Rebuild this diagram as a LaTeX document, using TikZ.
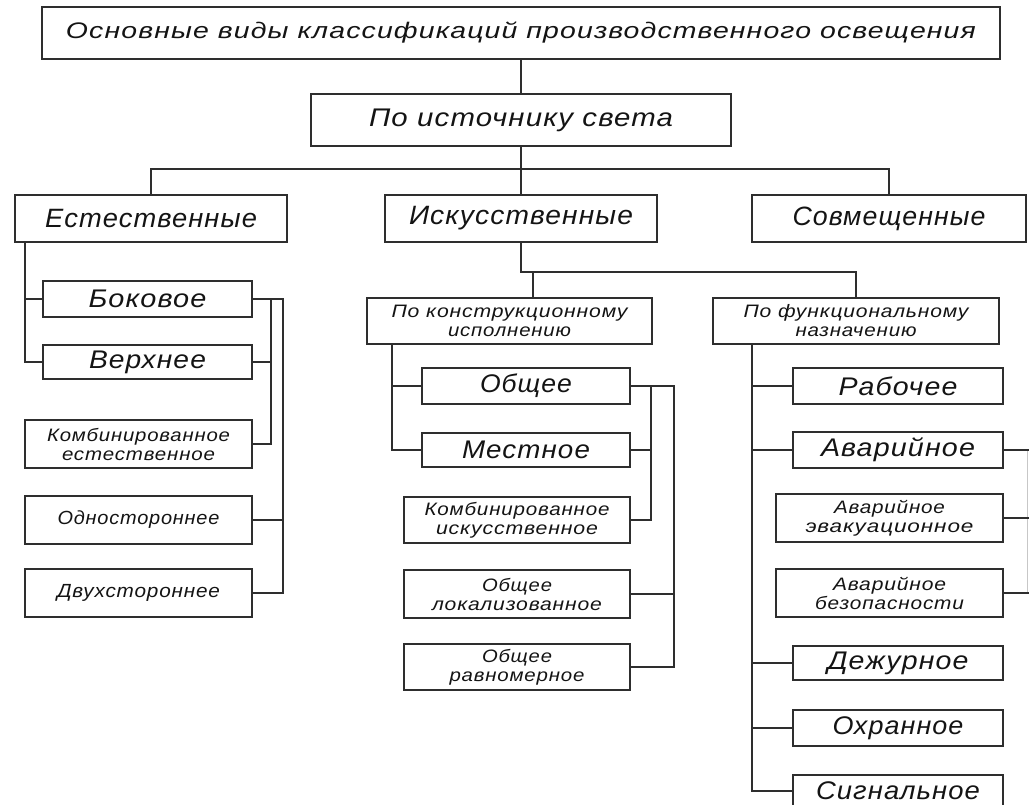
\documentclass[tikz,border=0pt]{standalone}
\usepackage{fontspec}
\usepackage{graphicx}
\newfontfamily\gost{Liberation Sans}[LetterSpace=4]
\makeatletter
\newlength\fwl
\newcommand\fw[2]{\settowidth\fwl{#2}\scalebox{\fpeval{(#1)/(\strip@pt\fwl)}}[1]{#2}}
\makeatother
\begin{document}
\begin{tikzpicture}[x=1pt,y=-1pt,
  box/.style={draw=black!82, line width=1.4pt, inner sep=0pt, outer sep=0pt, text=black!92, align=center},
  ttl/.style={box, font=\gost\itshape\fontsize{22.5}{26}\selectfont},
  big/.style={box, font=\gost\itshape\fontsize{25.5}{28}\selectfont},
  mid/.style={box, font=\gost\itshape\fontsize{19}{21}\selectfont},
  small/.style={box, font=\gost\itshape\fontsize{18}{19}\selectfont},
  wire/.style={draw=black!82, line width=1.4pt},
  faint/.style={draw=black!22, line width=1pt}]
\useasboundingbox (0,0) rectangle (1029,804);
\fill[white] (0,0) rectangle (1029,804);
\clip (0,0) rectangle (1029,804);

% level 0-1
\node[ttl, minimum width=958pt, minimum height=52pt] (title) at (521,33) {\fw{910}{Основные виды классификаций производственного освещения}};
\node[big, minimum width=420pt, minimum height=52pt] (src) at (521,120) {\fw{304}{По источнику света}};
\node[big, font=\gost\itshape\fontsize{26.5}{28}\selectfont, minimum width=272pt, minimum height=47pt] (nat) at (151,218.5) {\fw{212}{Естественные}};
\node[big, font=\gost\itshape\fontsize{26.5}{28}\selectfont, minimum width=272pt, minimum height=47pt] (art) at (521,218.5) {\fw{224}{Искусственные}};
\node[big, font=\gost\itshape\fontsize{26.5}{28}\selectfont, minimum width=274pt, minimum height=47pt] (comb) at (889,218.5) {\fw{193}{Совмещенные}};

% natural subtree
\node[big, minimum width=209pt, minimum height=36pt] (bok) at (147.5,299) {\fw{118}{Боковое}};
\node[big, minimum width=209pt, minimum height=34pt] (verh) at (147.5,362) {\fw{117}{Верхнее}};
\node[small, minimum width=227pt, minimum height=48pt] (kombE) at (138.5,444) {\fw{183}{Комбинированное}\\\fw{153}{естественное}};
\node[mid, minimum width=227pt, minimum height=48pt] (odn) at (138.5,520) {\fw{162}{Одностороннее}};
\node[mid, minimum width=227pt, minimum height=48pt] (dvu) at (138.5,593) {\fw{163}{Двухстороннее}};

% artificial subtree
\node[small, minimum width=285pt, minimum height=46pt] (konstr) at (509.5,321) {\fw{236}{По конструкционному}\\\fw{123}{исполнению}};
\node[big, minimum width=208pt, minimum height=36pt] (obsh) at (526,386) {\fw{92}{Общее}};
\node[big, minimum width=208pt, minimum height=34pt] (mest) at (526,450) {\fw{128}{Местное}};
\node[small, minimum width=226pt, minimum height=46pt] (kombI) at (517,520) {\fw{185}{Комбинированное}\\\fw{162}{искусственное}};
\node[small, minimum width=226pt, minimum height=48pt] (lok) at (517,594) {\fw{70}{Общее}\\\fw{170}{локализованное}};
\node[small, minimum width=226pt, minimum height=46pt] (ravn) at (517,667) {\fw{70}{Общее}\\\fw{135}{равномерное}};

\node[small, minimum width=286pt, minimum height=46pt] (funk) at (856,321) {\fw{225}{По функциональному}\\\fw{121}{назначению}};
\node[big, minimum width=210pt, minimum height=36pt] (rab) at (898,386) {\fw{119}{Рабочее}};
\node[big, minimum width=210pt, minimum height=36pt] (avar) at (898,450) {\fw{154}{Аварийное}};
\node[small, minimum width=227pt, minimum height=48pt] (evak) at (889.5,518) {\fw{111}{Аварийное}\\\fw{168}{эвакуационное}};
\node[small, minimum width=227pt, minimum height=48pt] (bez) at (889.5,593) {\fw{113}{Аварийное}\\\fw{149}{безопасности}};
\node[big, minimum width=210pt, minimum height=34pt] (dezh) at (898,663) {\fw{141}{Дежурное}};
\node[big, minimum width=210pt, minimum height=36pt] (ohr) at (898,728) {\fw{131}{Охранное}};
\node[big, minimum width=210pt, minimum height=32pt] (sig) at (898,791) {\fw{164}{Сигнальное}};

% connectors level 0-1
\coordinate (j1) at (521,169);
\draw[wire] (title.south) -- (src.north);
\draw[wire] (src.south) -- (src.south |- j1);
\draw[wire] (nat.north) -- (nat.north |- j1) -- (comb.north |- j1) -- (comb.north);
\draw[wire] (art.north) -- (art.north |- j1);

% natural
\coordinate (eA) at (271,0);
\coordinate (eB) at (283,0);
\draw[wire] (kombE.west |- nat.south) |- (verh.west);
\draw[wire] (kombE.west |- bok.west) -- (bok.west);
\draw[wire] (bok.east) -- (bok.east -| eB) |- (dvu.east);
\draw[wire] (bok.east -| eA) |- (kombE.east);
\draw[wire] (verh.east) -- (verh.east -| eA);
\draw[wire] (odn.east) -- (odn.east -| eB);

% artificial
\coordinate (j2) at (521,272);
\coordinate (kA) at (533,0);
\coordinate (kL) at (392,0);
\coordinate (kI) at (651,0);
\coordinate (kB) at (674,0);
\draw[wire] (art.south) -- (art.south |- j2) -- (funk.north |- j2) -- (funk.north);
\draw[wire] (kA |- j2) -- (kA |- konstr.north);
\draw[wire] (kL |- konstr.south) |- (mest.west);
\draw[wire] (kL |- obsh.west) -- (obsh.west);
\draw[wire] (obsh.east) -- (obsh.east -| kB) |- (ravn.east);
\draw[wire] (obsh.east -| kI) |- (kombI.east);
\draw[wire] (mest.east) -- (mest.east -| kI);
\draw[wire] (lok.east) -- (lok.east -| kB);

% functional
\coordinate (fL) at (752,0);
\coordinate (fR) at (1030,0);
\coordinate (fV) at (1027.5,0);
\draw[wire] (fL |- funk.south) |- (sig.west);
\draw[wire] (fL |- rab.west) -- (rab.west);
\draw[wire] (fL |- avar.west) -- (avar.west);
\draw[wire] (fL |- dezh.west) -- (dezh.west);
\draw[wire] (fL |- ohr.west) -- (ohr.west);
\draw[faint] (fV |- avar.east) -- (fV |- bez.east);
\draw[wire] (avar.east) -- (avar.east -| fR);
\draw[wire] (evak.east) -- (evak.east -| fR);
\draw[wire] (bez.east) -- (bez.east -| fR);
\end{tikzpicture}
\end{document}
